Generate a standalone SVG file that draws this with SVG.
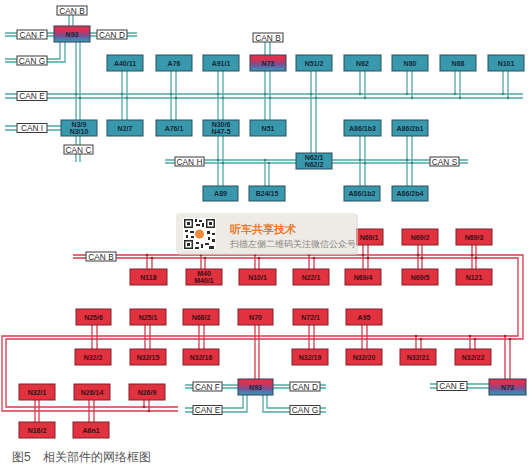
<svg xmlns="http://www.w3.org/2000/svg" width="532" height="471" viewBox="0 0 532 471">
<defs>
<linearGradient id="gw" x1="0" y1="0" x2="0" y2="1">
<stop offset="0" stop-color="#ea2f48"/>
<stop offset="0.3" stop-color="#d03358"/>
<stop offset="0.6" stop-color="#7a4f90"/>
<stop offset="0.85" stop-color="#4a80b0"/>
<stop offset="1" stop-color="#3aa0ae"/>
</linearGradient>
<style>
.tb{fill:#3a98ad;stroke:#24505c;stroke-width:1}
.rb{fill:#e0323f;stroke:#82202a;stroke-width:1}
.gw{fill:url(#gw);stroke:#2e3e5a;stroke-width:1}
.cb{fill:#ffffff;stroke:#3a3a3a;stroke-width:1}
.tl{fill:none;stroke:#52a6a6;stroke-width:1.3}
.rl{fill:none;stroke:#d8384c;stroke-width:1.3}
.td{fill:#3d8a8a}
.rd{fill:#a82030}
text{font-family:"Liberation Sans",Arial,sans-serif}
.n{font-size:7px;font-weight:bold;fill:#14283a;text-anchor:middle}
.nr{font-size:7px;font-weight:bold;fill:#3a0e14;text-anchor:middle}
.c{font-size:8.3px;fill:#2a2a2a;text-anchor:middle}
</style>
</defs>
<rect width="532" height="471" fill="#ffffff"/>

<g id="connectors">
<path class="tl" d="M69,15V26M73,15V26"/>
<path class="tl" d="M5,33H17M5,36H17M47,33H54M47,36H54"/>
<path class="tl" d="M90,33H97M90,36H97M127,33H137M127,36H137"/>
<path class="tl" d="M5,59H17M5,62H17M60,42V59H47M65,42V62H47"/>
<path class="tl" d="M76,42V120M80,42V120M76,136V145M80,136V145M76,154V162M80,154V162"/>
<path class="tl" d="M5,94H17M5,98H17M47,94H523M47,98H523"/>
<path class="tl" d="M5,126H17M5,130H17M47,126H61M47,130H61"/>
<path class="tl" d="M122,71V120M127,71V120M171,71V120M176,71V120M218,71V120M223,71V120M265,71V120M270,71V120M311,71V153M316,71V153"/>
<path class="tl" d="M360,71V94M365,71V98M407,71V94M412,71V98M455,71V94M460,71V98M503,71V94M508,71V98"/>
<path class="tl" d="M218,136V186M223,136V186M360,136V186M365,136V186M407,136V186M412,136V186"/>
<path class="tl" d="M165,160H175M165,163H175M204,160H296M204,163H296M332,160H430M332,163H430M459,160H468M459,163H468"/>
<path class="tl" d="M265,160V186M269,163V186M265,42V55M270,42V55"/>
<g class="td">
<circle cx="76" cy="94" r="1.3"/><circle cx="80" cy="98" r="1.3"/>
<circle cx="122" cy="94" r="1.3"/><circle cx="127" cy="98" r="1.3"/>
<circle cx="171" cy="94" r="1.3"/><circle cx="176" cy="98" r="1.3"/>
<circle cx="218" cy="94" r="1.3"/><circle cx="223" cy="98" r="1.3"/>
<circle cx="265" cy="94" r="1.3"/><circle cx="270" cy="98" r="1.3"/>
<circle cx="311" cy="94" r="1.3"/><circle cx="316" cy="98" r="1.3"/>
<circle cx="360" cy="94" r="1.3"/><circle cx="365" cy="98" r="1.3"/>
<circle cx="407" cy="94" r="1.3"/><circle cx="412" cy="98" r="1.3"/>
<circle cx="455" cy="94" r="1.3"/><circle cx="460" cy="98" r="1.3"/>
<circle cx="503" cy="94" r="1.3"/><circle cx="508" cy="98" r="1.3"/>
<circle cx="218" cy="160" r="1.3"/><circle cx="223" cy="163" r="1.3"/>
<circle cx="265" cy="160" r="1.3"/><circle cx="269" cy="163" r="1.3"/>
<circle cx="360" cy="160" r="1.3"/><circle cx="365" cy="163" r="1.3"/>
<circle cx="407" cy="160" r="1.3"/><circle cx="412" cy="163" r="1.3"/>
</g>
<path class="rl" d="M73,255H86M73,258H86"/>
<path class="rl" d="M116,255H523V339H6V407H178"/>
<path class="rl" d="M116,258H518V336H2V411H178"/>
<path class="rl" d="M363,245V269M368,245V269M418,245V269M422,245V269M472,245V269M476,245V269"/>
<path class="rl" d="M147,255V269M152,258V269M201,255V269M205,258V269M255,255V269M259,258V269M309,255V269M314,258V269"/>
<path class="rl" d="M92,325V349M97,325V349M145,325V349M150,325V349M199,325V349M204,325V349M309,325V349M314,325V349M362,325V349M367,325V349M255,325V379M259,325V379"/>
<path class="rl" d="M416,336V349M421,339V349M470,336V349M475,339V349M505,336V379M510,339V379"/>
<path class="rl" d="M35,400V422M39,400V422M89,400V422M94,400V422M144,400V407M149,400V411"/>
<g class="rd">
<circle cx="147" cy="255" r="1.3"/><circle cx="152" cy="258" r="1.3"/>
<circle cx="201" cy="255" r="1.3"/><circle cx="205" cy="258" r="1.3"/>
<circle cx="255" cy="255" r="1.3"/><circle cx="259" cy="258" r="1.3"/>
<circle cx="309" cy="255" r="1.3"/><circle cx="314" cy="258" r="1.3"/>
<circle cx="363" cy="255" r="1.3"/><circle cx="368" cy="258" r="1.3"/>
<circle cx="418" cy="255" r="1.3"/><circle cx="422" cy="258" r="1.3"/>
<circle cx="472" cy="255" r="1.3"/><circle cx="476" cy="258" r="1.3"/>
<circle cx="416" cy="336" r="1.3"/><circle cx="421" cy="339" r="1.3"/>
<circle cx="470" cy="336" r="1.3"/><circle cx="475" cy="339" r="1.3"/>
<circle cx="505" cy="336" r="1.3"/><circle cx="510" cy="339" r="1.3"/>
<circle cx="144" cy="407" r="1.3"/><circle cx="149" cy="411" r="1.3"/>
</g>
<path class="tl" d="M185,385H193M185,388H193M222,385H238M222,388H238M273,385H290M273,388H290M320,385H326M320,388H326"/>
<path class="tl" d="M243,395V408H222M247,395V412H222M185,408H193M185,412H193"/>
<path class="tl" d="M267,395V408H290M263,395V412H290M320,408H326M320,412H326"/>
<path class="tl" d="M430,384H437M430,388H437M467,384H489M467,388H489"/>
</g>

<g id="canB1"><rect class="cb" x="57" y="6" width="30" height="9"/><text class="c" x="72" y="13.5">CAN B</text></g>
<g id="canF1"><rect class="cb" x="17" y="30" width="30" height="9"/><text class="c" x="32" y="37.5">CAN F</text></g>
<g id="canD1"><rect class="cb" x="97" y="30" width="30" height="9"/><text class="c" x="112" y="37.5">CAN D</text></g>
<g id="canG1"><rect class="cb" x="17" y="56" width="30" height="9"/><text class="c" x="32" y="63.5">CAN G</text></g>
<g id="canE1"><rect class="cb" x="17" y="91.5" width="30" height="9"/><text class="c" x="32" y="99">CAN E</text></g>
<g id="canI"><rect class="cb" x="17" y="123.5" width="30" height="9"/><text class="c" x="32" y="131">CAN I</text></g>
<g id="canC"><rect class="cb" x="64" y="145" width="29" height="9"/><text class="c" x="78.5" y="152.5">CAN C</text></g>
<g id="canB2"><rect class="cb" x="253" y="33" width="30" height="9"/><text class="c" x="268" y="40.5">CAN B</text></g>
<g id="canH"><rect class="cb" x="175" y="157" width="29" height="9"/><text class="c" x="189.5" y="164.5">CAN H</text></g>
<g id="canS"><rect class="cb" x="430" y="157" width="29" height="9"/><text class="c" x="444.5" y="164.5">CAN S</text></g>

<g id="N93a"><rect class="gw" x="54" y="26" width="36" height="16"/><text class="n" x="72" y="36.5">N93</text></g>
<g id="N73a"><rect class="gw" x="250" y="55" width="36" height="16"/><text class="n" x="268" y="65.5">N73</text></g>
<g id="A40_11"><rect class="tb" x="107" y="55" width="36" height="16"/><text class="n" x="125" y="65.5">A40/11</text></g>
<g id="A76"><rect class="tb" x="156" y="55" width="36" height="16"/><text class="n" x="174" y="65.5">A76</text></g>
<g id="A91_1"><rect class="tb" x="203" y="55" width="36" height="16"/><text class="n" x="221" y="65.5">A91/1</text></g>
<g id="N51_2"><rect class="tb" x="296" y="55" width="36" height="16"/><text class="n" x="314" y="65.5">N51/2</text></g>
<g id="N62"><rect class="tb" x="344" y="55" width="37" height="16"/><text class="n" x="362.5" y="65.5">N62</text></g>
<g id="N80"><rect class="tb" x="392" y="55" width="36" height="16"/><text class="n" x="410" y="65.5">N80</text></g>
<g id="N68"><rect class="tb" x="440" y="55" width="36" height="16"/><text class="n" x="458" y="65.5">N68</text></g>
<g id="N101"><rect class="tb" x="488" y="55" width="36" height="16"/><text class="n" x="506" y="65.5">N101</text></g>
<g id="N3_9"><rect class="tb" x="61" y="120" width="36" height="16"/><text class="n" x="79" y="126.5">N3/9</text><text class="n" x="79" y="133.5">N3/10</text></g>
<g id="N2_7"><rect class="tb" x="107" y="120" width="36" height="16"/><text class="n" x="125" y="130.5">N2/7</text></g>
<g id="A76_1"><rect class="tb" x="156" y="120" width="36" height="16"/><text class="n" x="174" y="130.5">A76/1</text></g>
<g id="N30_6"><rect class="tb" x="203" y="120" width="36" height="16"/><text class="n" x="221" y="126.5">N30/6</text><text class="n" x="221" y="133.5">N47-5</text></g>
<g id="N51"><rect class="tb" x="250" y="120" width="36" height="16"/><text class="n" x="268" y="130.5">N51</text></g>
<g id="A86_1b3"><rect class="tb" x="344" y="120" width="37" height="16"/><text class="n" x="362.5" y="130.5">A86/1b3</text></g>
<g id="A86_2b1"><rect class="tb" x="392" y="120" width="36" height="16"/><text class="n" x="410" y="130.5">A86/2b1</text></g>
<g id="N62_1"><rect class="tb" x="296" y="153" width="36" height="16"/><text class="n" x="314" y="159.5">N62/1</text><text class="n" x="314" y="166.5">N62/2</text></g>
<g id="A89"><rect class="tb" x="203" y="186" width="35" height="15"/><text class="n" x="220.5" y="196">A89</text></g>
<g id="B24_15"><rect class="tb" x="249" y="186" width="36" height="15"/><text class="n" x="267" y="196">B24/15</text></g>
<g id="A86_1b2"><rect class="tb" x="344" y="186" width="36" height="15"/><text class="n" x="362" y="196">A86/1b2</text></g>
<g id="A86_2b4"><rect class="tb" x="392" y="186" width="36" height="15"/><text class="n" x="410" y="196">A86/2b4</text></g>

<g id="canB3"><rect class="cb" x="86" y="252" width="30" height="9"/><text class="c" x="101" y="259.5">CAN B</text></g>
<g id="N69_1"><rect class="rb" x="347" y="229" width="36" height="16"/><text class="nr" x="369" y="239.5">N69/1</text></g>
<g id="N69_2"><rect class="rb" x="402" y="229" width="36" height="16"/><text class="nr" x="420" y="239.5">N69/2</text></g>
<g id="N69_3"><rect class="rb" x="456" y="229" width="36" height="16"/><text class="nr" x="474" y="239.5">N69/3</text></g>
<g id="N118"><rect class="rb" x="130" y="269" width="37" height="16"/><text class="nr" x="148.5" y="279.5">N118</text></g>
<g id="M40"><rect class="rb" x="186" y="269" width="36" height="16"/><text class="nr" x="204" y="275.5">M40</text><text class="nr" x="204" y="282.5">M40/1</text></g>
<g id="N10_1"><rect class="rb" x="239" y="269" width="37" height="16"/><text class="nr" x="257.5" y="279.5">N10/1</text></g>
<g id="N22_1"><rect class="rb" x="293" y="269" width="36" height="16"/><text class="nr" x="311" y="279.5">N22/1</text></g>
<g id="N69_4"><rect class="rb" x="345" y="269" width="36" height="16"/><text class="nr" x="363" y="279.5">N69/4</text></g>
<g id="N69_5"><rect class="rb" x="402" y="269" width="36" height="16"/><text class="nr" x="420" y="279.5">N69/5</text></g>
<g id="N121"><rect class="rb" x="456" y="269" width="36" height="16"/><text class="nr" x="474" y="279.5">N121</text></g>
<g id="N25_6"><rect class="rb" x="76" y="309" width="35" height="16"/><text class="nr" x="93.5" y="319.5">N25/6</text></g>
<g id="N25_1"><rect class="rb" x="130" y="309" width="36" height="16"/><text class="nr" x="148" y="319.5">N25/1</text></g>
<g id="N68_2"><rect class="rb" x="183" y="309" width="36" height="16"/><text class="nr" x="201" y="319.5">N68/2</text></g>
<g id="N70"><rect class="rb" x="238" y="309" width="35" height="16"/><text class="nr" x="255.5" y="319.5">N70</text></g>
<g id="N72_1"><rect class="rb" x="293" y="309" width="35" height="16"/><text class="nr" x="310.5" y="319.5">N72/1</text></g>
<g id="A95"><rect class="rb" x="346" y="309" width="36" height="16"/><text class="nr" x="364" y="319.5">A95</text></g>
<g id="N32_2"><rect class="rb" x="75" y="349" width="36" height="16"/><text class="nr" x="93" y="359.5">N32/2</text></g>
<g id="N32_15"><rect class="rb" x="130" y="349" width="36" height="16"/><text class="nr" x="148" y="359.5">N32/15</text></g>
<g id="N32_16"><rect class="rb" x="183" y="349" width="36" height="16"/><text class="nr" x="201" y="359.5">N32/16</text></g>
<g id="N32_19"><rect class="rb" x="292" y="349" width="36" height="16"/><text class="nr" x="310" y="359.5">N32/19</text></g>
<g id="N32_20"><rect class="rb" x="346" y="349" width="36" height="16"/><text class="nr" x="364" y="359.5">N32/20</text></g>
<g id="N32_21"><rect class="rb" x="400" y="349" width="36" height="16"/><text class="nr" x="418" y="359.5">N32/21</text></g>
<g id="N32_22"><rect class="rb" x="455" y="349" width="36" height="16"/><text class="nr" x="473" y="359.5">N32/22</text></g>
<g id="N32_1"><rect class="rb" x="19" y="384" width="36" height="16"/><text class="nr" x="37" y="394.5">N32/1</text></g>
<g id="N26_14"><rect class="rb" x="74" y="384" width="36" height="16"/><text class="nr" x="92" y="394.5">N26/14</text></g>
<g id="N26_9"><rect class="rb" x="129" y="384" width="36" height="16"/><text class="nr" x="147" y="394.5">N26/9</text></g>
<g id="N16_2"><rect class="rb" x="19" y="422" width="36" height="16"/><text class="nr" x="37" y="432.5">N16/2</text></g>
<g id="A6n1"><rect class="rb" x="73" y="422" width="36" height="16"/><text class="nr" x="91" y="432.5">A6n1</text></g>

<g id="N93b"><rect class="gw" x="238" y="379" width="35" height="16"/><text class="n" x="255.5" y="389.5">N93</text></g>
<g id="N73b"><rect class="gw" x="489" y="379" width="37" height="16"/><text class="n" x="507.5" y="389.5">N73</text></g>
<g id="canF2"><rect class="cb" x="193" y="382" width="29" height="9"/><text class="c" x="207.5" y="389.5">CAN F</text></g>
<g id="canD2"><rect class="cb" x="290" y="382" width="30" height="9"/><text class="c" x="305" y="389.5">CAN D</text></g>
<g id="canE2"><rect class="cb" x="193" y="405.5" width="29" height="9"/><text class="c" x="207.5" y="413">CAN E</text></g>
<g id="canG2"><rect class="cb" x="290" y="405.5" width="30" height="9"/><text class="c" x="305" y="413">CAN G</text></g>
<g id="canE3"><rect class="cb" x="437" y="381.5" width="30" height="9"/><text class="c" x="452" y="389">CAN E</text></g>

<g id="watermark">
<rect x="177" y="214" width="181" height="41" rx="3" fill="#d8d2cb" opacity="0.6"/>
<rect x="176" y="213" width="180" height="40" rx="3" fill="#eeeae5"/>
<rect x="183" y="218" width="33" height="32" fill="#ffffff"/>
<g fill="#2a2a2a">
<rect x="184" y="219" width="9" height="9"/><rect x="206" y="219" width="9" height="9"/><rect x="184" y="240" width="9" height="9"/>
<rect x="195" y="219" width="2" height="3"/><rect x="199" y="220" width="3" height="2"/><rect x="196" y="224" width="4" height="2"/><rect x="202" y="223" width="2" height="4"/>
<rect x="185" y="230" width="3" height="2"/><rect x="190" y="231" width="4" height="2"/><rect x="186" y="235" width="2" height="3"/><rect x="191" y="236" width="3" height="2"/>
<rect x="207" y="231" width="3" height="3"/><rect x="212" y="233" width="3" height="2"/><rect x="208" y="237" width="2" height="3"/><rect x="212" y="239" width="3" height="3"/>
<rect x="196" y="242" width="3" height="2"/><rect x="201" y="244" width="2" height="4"/><rect x="205" y="243" width="4" height="2"/><rect x="209" y="246" width="5" height="3"/><rect x="195" y="247" width="4" height="2"/>
</g>
<g fill="#ffffff"><rect x="185.5" y="220.5" width="6" height="6"/><rect x="207.5" y="220.5" width="6" height="6"/><rect x="185.5" y="241.5" width="6" height="6"/></g>
<g fill="#2a2a2a"><rect x="187" y="222" width="3" height="3"/><rect x="209" y="222" width="3" height="3"/><rect x="187" y="243" width="3" height="3"/></g>
<circle cx="199.5" cy="234" r="4.5" fill="#ef8a3a"/>
<text x="230" y="233" font-family="'Noto Sans CJK SC',sans-serif" font-size="11" font-weight="bold" fill="#ec7b2e">听车共享技术</text>
<text x="230" y="247" font-family="'Noto Sans CJK SC',sans-serif" font-size="8.7" fill="#8a8580">扫描左侧二维码关注微信公众号</text>
</g>

<text x="12" y="461" font-family="'Noto Sans CJK SC',sans-serif" font-size="12" fill="#555">图5　相关部件的网络框图</text>
</svg>
